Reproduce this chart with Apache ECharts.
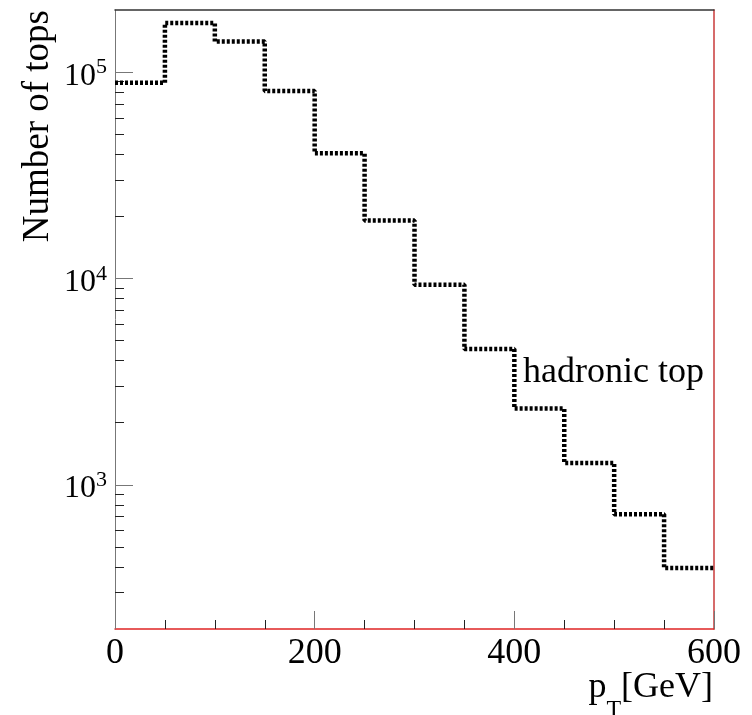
<!DOCTYPE html>
<html>
<head>
<meta charset="utf-8">
<script src="https://cdn.jsdelivr.net/npm/echarts@6/dist/echarts.min.js"></script>
<style>
html,body{margin:0;padding:0;background:#fff;}
#chart{width:752px;height:715px;}
</style>
</head>
<body>
<div id="chart"></div>
<script>
// Histogram bin edges (GeV) and counts per bin
const binEdges = [0, 50, 100, 150, 200, 250, 300, 350, 400, 450, 500, 550, 600];
const counts = [88800, 173000, 140800, 81000, 40400, 19100, 9320, 4550, 2340, 1275, 720, 395];
const xTicks = [0, 200, 400, 600];
const yMajorTicks = [1000, 10000, 100000];
const yMinorTicks = [300, 400, 500, 600, 700, 800, 900,
  2000, 3000, 4000, 5000, 6000, 7000, 8000, 9000,
  20000, 30000, 40000, 50000, 60000, 70000, 80000, 90000];
const seriesName = 'hadronic top';

const FONT = '"Liberation Serif", "Times New Roman", serif';

const stepData = counts.map((c, i) => [binEdges[i], c]);
stepData.push([binEdges[binEdges.length - 1], counts[counts.length - 1]]);

const chart = echarts.init(document.getElementById('chart'), null, {renderer: 'canvas'});

const yBase = {
  type: 'log', logBase: 10, min: 200, max: 200000,
  splitLine: {show: false}, minorSplitLine: {show: false}
};

chart.setOption({
  animation: false,
  backgroundColor: '#fff',
  grid: {left: 115, top: 10, right: 38, bottom: 86, show: false},
  xAxis: [{
    type: 'value', min: 0, max: 600, interval: 200,
    position: 'bottom',
    axisLine: {show: true, onZero: false, lineStyle: {color: '#e02424', width: 1.5}},
    axisTick: {show: true, inside: true, length: 18, lineStyle: {color: '#777', width: 1}},
    minorTick: {show: true, splitNumber: 4, length: 9, lineStyle: {color: '#222', width: 1}},
    splitLine: {show: false}, minorSplitLine: {show: false},
    axisLabel: {
      margin: 7, fontSize: 36, fontFamily: FONT, color: '#000',
      customValues: xTicks,
      formatter: v => String(v)
    },
    z: 4
  }, {
    type: 'value', min: 0, max: 600,
    position: 'top',
    axisLine: {show: true, onZero: false, lineStyle: {color: '#333', width: 1.5}},
    axisTick: {show: false}, axisLabel: {show: false},
    splitLine: {show: false}
  }],
  yAxis: [
    Object.assign({}, yBase, {
      position: 'left',
      axisLine: {show: true, onZero: false, lineStyle: {color: '#777', width: 1}},
      axisTick: {show: true, inside: true, length: 18, customValues: yMajorTicks, lineStyle: {color: '#777', width: 1}},
      axisLabel: {
        show: true, margin: 8, customValues: yMajorTicks,
        formatter: v => '{b|10}{s|' + Math.round(Math.log10(v)) + '}',
        rich: {
          b: {fontSize: 32, fontFamily: FONT, color: '#000', padding: [8, 0, 0, 0]},
          s: {fontSize: 22, fontFamily: FONT, color: '#000', padding: [0, 0, 9, 0]}
        }
      }
    }),
    Object.assign({}, yBase, {
      position: 'left',
      axisLine: {show: false},
      axisTick: {show: true, inside: true, length: 9, customValues: yMinorTicks, lineStyle: {color: '#222', width: 1}},
      axisLabel: {show: false}
    }),
    Object.assign({}, yBase, {
      position: 'right',
      axisLine: {show: true, onZero: false, lineStyle: {color: '#c83a3a', width: 1.5}},
      axisTick: {show: false},
      axisLabel: {show: false}
    })
  ],
  series: [{
    name: seriesName,
    type: 'line',
    xAxisIndex: 0, yAxisIndex: 0,
    step: 'end',
    symbol: 'none',
    data: stepData,
    lineStyle: {color: '#000', width: 4.5, type: [3, 2], cap: 'butt'},
    z: 3
  }],
  graphic: [
    {
      type: 'text', x: 38, y: 10, rotation: Math.PI / 2,
      style: {text: 'Number of tops', x: 0, y: 0, font: '37px ' + FONT, fill: '#000',
        align: 'right', verticalAlign: 'middle', textAlign: 'right', textVerticalAlign: 'middle'}
    },
    {
      type: 'text', x: 523, y: 373,
      style: {text: seriesName, x: 0, y: 0, font: '36px ' + FONT, fill: '#000',
        align: 'left', verticalAlign: 'middle', textAlign: 'left', textVerticalAlign: 'middle'}
    },
    {
      type: 'text', x: 713, y: 688,
      style: {
        text: '{a|p}{t|T}{a|[GeV]}', x: 0, y: 0,
        align: 'right', verticalAlign: 'middle', textAlign: 'right', textVerticalAlign: 'middle',
        rich: {
          a: {fontSize: 36, fontFamily: FONT, fill: '#000', color: '#000'},
          t: {fontSize: 24, fontFamily: FONT, fill: '#000', color: '#000', padding: [44, 0, 0, 0]}
        }
      }
    }
  ]
});
</script>
</body>
</html>
